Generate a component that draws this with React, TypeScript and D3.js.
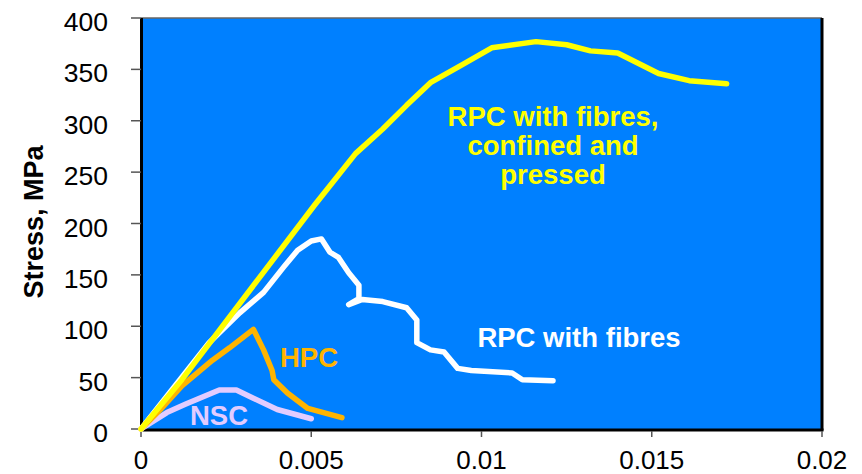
import React from "react";
import * as d3 from "d3";

const xTicks = [0, 0.005, 0.01, 0.015, 0.02];
const xTickLabels = ["0", "0.005", "0.01", "0.015", "0.02"];
const yTicks = [0, 50, 100, 150, 200, 250, 300, 350, 400];

const rpcConfined: [number, number][] = [
  [0, 0], [0.0012, 48], [0.0051, 218], [0.0063, 268], [0.0071, 292], [0.0078, 315], [0.0085, 337],
  [0.0094, 354], [0.0103, 371], [0.0116, 377], [0.0125, 374], [0.0132, 368],
  [0.014, 366], [0.0152, 346], [0.0161, 339], [0.0172, 336],
];
const rpcFibres: [number, number][] = [
  [0, 0], [0.002, 84], [0.0029, 113], [0.0036, 133], [0.0042, 158], [0.0046, 174], [0.005, 183], [0.0053, 185],
  [0.00555, 172], [0.0058, 167], [0.0061, 152], [0.0064, 140], [0.0064, 127],
  [0.0061, 121], [0.0065, 126], [0.0071, 124], [0.0078, 118], [0.0081, 106],
  [0.0081, 84], [0.0085, 77], [0.0089, 75], [0.0093, 59], [0.0097, 57],
  [0.0109, 54.5], [0.0112, 48], [0.0121, 47],
];
const hpc: [number, number][] = [
  [0, 0], [0.0006, 20], [0.0012, 42], [0.0021, 67], [0.0026, 79], [0.0033, 97], [0.0036, 77],
  [0.00385, 57], [0.0039, 48], [0.0043, 35], [0.0049, 20], [0.0059, 11],
];
const nsc: [number, number][] = [
  [0, 0], [0.00076, 16], [0.0013, 24], [0.0023, 38], [0.0028, 38], [0.0033, 30],
  [0.004, 19], [0.0050, 10],
];

const series = [
  { name: "nsc", data: nsc, color: "#E2CCFF" },
  { name: "hpc", data: hpc, color: "#FFB400" },
  { name: "rpcFibres", data: rpcFibres, color: "#FFFFFF" },
  { name: "rpcConfined", data: rpcConfined, color: "#FFFF00" },
];

export default function App() {
  const W = 862, H = 474;
  const left = 141, right = 822, top = 18, bottom = 429;
  const x = d3.scaleLinear().domain([0, 0.02]).range([left, right]);
  const y = d3.scaleLinear().domain([0, 400]).range([bottom, top]);
  const line = d3.line<[number, number]>().x(d => x(d[0])).y(d => y(d[1]));
  const font = "Arial, 'Liberation Sans', sans-serif";
  return (
    <svg width={W} height={H} style={{ position: "absolute", left: 0, top: 0 }} fontFamily={font}>
      <rect x={0} y={0} width={W} height={H} fill="#fff" />
      <rect x={left} y={top} width={right - left} height={bottom - top} fill="#0080FF" />
      <line x1={left} x2={right} y1={top} y2={top} stroke="#666" strokeWidth={1.5} />
      <line x1={left + 0.5} x2={left + 0.5} y1={top} y2={bottom + 1.5} stroke="#000" strokeWidth={3} />
      <line x1={right} x2={right} y1={top} y2={bottom + 1.5} stroke="#000" strokeWidth={3} />
      <line x1={left} x2={right + 1.5} y1={bottom + 1} y2={bottom + 1} stroke="#000" strokeWidth={3} />
      {yTicks.map(t => (
        <g key={t}>
          <line x1={131} x2={left} y1={y(t)} y2={y(t)} stroke="#555" strokeWidth={1.5} />
          <text x={108} y={y(t) + 13} textAnchor="end" fontSize={26.5} fill="#000">{t}</text>
        </g>
      ))}
      {xTicks.map((t, i) => (
        <g key={t}>
          <line x1={x(t)} x2={x(t)} y1={bottom + 2} y2={bottom + 8} stroke="#555" strokeWidth={1.5} />
          <text x={x(t)} y={469} textAnchor="middle" fontSize={26} fill="#000">{xTickLabels[i]}</text>
        </g>
      ))}
      <text transform={`translate(43,222) rotate(-90)`} textAnchor="middle" fontSize={27} fontWeight="bold" fill="#000">Stress, MPa</text>
      {series.map(s => (
        <path key={s.name} d={line(s.data) || ""} fill="none" stroke={s.color} strokeWidth={5.5}
          strokeLinejoin="round" strokeLinecap="round" />
      ))}
      <g fontWeight="bold" fontSize={27.5} textAnchor="middle">
        <text x={553} y={126} fill="#FFFF00">RPC with fibres,</text>
        <text x={553} y={155} fill="#FFFF00">confined and</text>
        <text x={553} y={184} fill="#FFFF00">pressed</text>
        <text x={579} y={347} fill="#FFFFFF">RPC with fibres</text>
        <text x={309} y={367} fill="#FFB400">HPC</text>
        <text x={219} y={425} fill="#E2CCFF">NSC</text>
      </g>
    </svg>
  );
}
